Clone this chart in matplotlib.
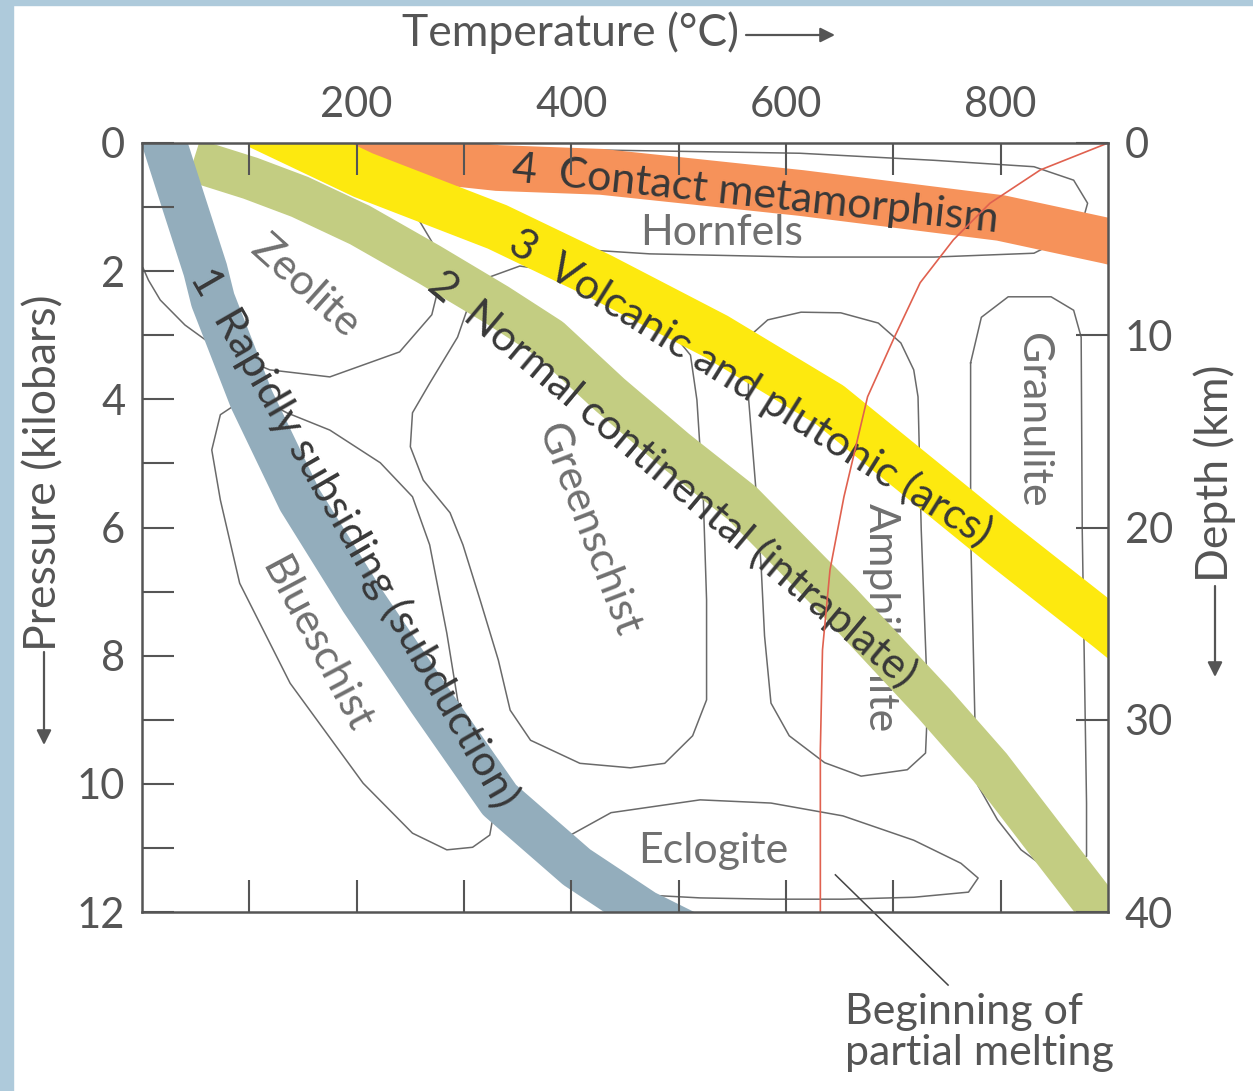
import matplotlib
matplotlib.use("Agg")
import matplotlib.pyplot as plt
from matplotlib.patches import Rectangle

plt.rcParams["font.family"] = ["Lato", "DejaVu Sans"]

# Geotherm bands: centre lines, temperature (deg C) vs pressure (kbar)
subduction_t = [17, 21, 38, 59, 66, 102, 147, 205, 268, 333, 405, 468, 510]
subduction_p = [-0.3, 0.0, 0.89, 1.98, 2.45, 4.0, 5.57, 7.13, 8.69, 10.25, 11.30,
                12.0, 12.35]

continental_t = [48, 101, 147, 203, 268, 331, 380, 436, 497, 559, 650, 738, 790,
                 840, 894, 911]
continental_p = [0.27, 0.55, 0.84, 1.28, 1.90, 2.53, 3.06, 3.93, 4.80, 5.62, 7.17,
                 8.75, 9.74, 10.83, 12.0, 12.39]

arc_t = [108, 206, 331, 428, 535, 641, 799, 900, 939]
arc_p = [-0.28, 0.50, 1.31, 2.09, 3.02, 4.09, 6.24, 7.57, 8.10]

contact_t = [175, 331, 428, 614, 800, 900, 939]
contact_p = [0.11, 0.39, 0.45, 0.78, 1.17, 1.53, 1.69]

# Beginning of partial melting (wet granite solidus)
melt_t = [900, 837, 790, 756, 725, 701, 676, 654, 641, 634, 632, 632]
melt_p = [0.0, 0.42, 0.94, 1.51, 2.18, 3.03, 3.96, 5.52, 6.66, 7.91, 9.47, 12.0]

# Facies field outlines
zeolite_t = [245, 259, 270, 278, 270, 240, 175, 119, 68, 40, 17, 6, 1]
zeolite_p = [0.97, 1.23, 1.54, 2.14, 2.68, 3.26, 3.65, 3.54, 3.18, 2.84, 2.45, 2.14, 1.95]

blueschist_t = [112, 135, 175, 222, 252, 268, 284, 296, 315, 327, 324, 308, 284,
                252, 206, 138, 91, 73, 65, 73, 91, 112]
blueschist_p = [4.01, 4.21, 4.48, 4.99, 5.52, 6.27, 7.65, 8.89, 9.94, 10.52, 10.80,
                10.99, 11.03, 10.77, 9.99, 8.43, 6.87, 5.57, 4.79, 4.24, 4.04, 4.01]

greenschist_t = [324, 306, 294, 268, 252, 250, 262, 287, 299, 315, 332, 343, 362,
                 408, 455, 487, 513, 526, 526, 523, 517, 511, 492, 445, 390, 352, 324]
greenschist_p = [2.09, 2.45, 3.03, 3.75, 4.21, 4.74, 5.26, 5.77, 6.27, 7.13, 8.07,
                 8.85, 9.32, 9.68, 9.75, 9.68, 9.25, 8.69, 7.13, 5.57, 4.01, 3.31,
                 2.92, 2.37, 2.01, 1.92, 2.09]

amphibolite_t = [565, 583, 614, 651, 686, 707, 719, 723, 726, 732, 730, 713, 670,
                 636, 603, 586, 580, 577, 573, 565, 565]
amphibolite_p = [3.03, 2.76, 2.64, 2.65, 2.81, 3.12, 3.54, 3.96, 6.04, 8.74, 9.52,
                 9.78, 9.88, 9.67, 9.25, 8.74, 7.69, 6.66, 5.62, 3.96, 3.03]

granulite_t = [772, 782, 807, 847, 868, 875, 876, 880, 880, 855, 836, 819, 797,
               779, 776, 772, 772]
granulite_p = [3.43, 2.72, 2.40, 2.40, 2.61, 3.03, 6.04, 10.30, 11.13, 11.28, 11.24,
               11.03, 10.56, 10.03, 9.00, 6.04, 3.43]

eclogite_t = [390, 397, 437, 520, 586, 653, 719, 763, 779, 770, 719, 653, 586,
              520, 464, 417, 390]
eclogite_p = [11.03, 10.82, 10.45, 10.25, 10.30, 10.50, 10.88, 11.24, 11.47, 11.69,
              11.77, 11.80, 11.80, 11.78, 11.73, 11.50, 11.03]

hornfels_t = [259, 427, 613, 738, 831, 868, 881, 874, 831, 738, 614, 473, 417,
              362, 306, 268, 259]
hornfels_p = [0.06, 0.11, 0.16, 0.27, 0.37, 0.58, 0.94, 1.36, 1.72, 1.78, 1.78,
              1.73, 1.67, 1.44, 0.97, 0.42, 0.06]

temp_ticks = [200, 400, 600, 800]
pressure_ticks = [0, 2, 4, 6, 8, 10, 12]
depth_ticks = [0, 10, 20, 30, 40]

BORDER = "#aecadb"
AXIS_GREY = "#555555"
OUTLINE = "#6a6a6a"
FACIES_TXT = "#707070"
BAND_TXT = "#383838"

fig = plt.figure(figsize=(12.53, 10.91), dpi=100)
fig.patches.append(Rectangle((0, 0), 13 / 1253, 1, transform=fig.transFigure,
                             color=BORDER, zorder=0))
fig.patches.append(Rectangle((0, 1 - 5 / 1091), 1, 5 / 1091, transform=fig.transFigure,
                             color=BORDER, zorder=0))

ax = fig.add_axes([142 / 1253, 1 - 912 / 1091, 966 / 1253, 769 / 1091])
ax.set_xlim(0, 900)
ax.set_ylim(12, 0)

# facies fields (drawn under the bands)
for t, p in [(zeolite_t, zeolite_p), (blueschist_t, blueschist_p),
             (greenschist_t, greenschist_p), (amphibolite_t, amphibolite_p),
             (granulite_t, granulite_p), (eclogite_t, eclogite_p),
             (hornfels_t, hornfels_p)]:
    ax.plot(t, p, color=OUTLINE, lw=1.1, zorder=2, solid_joinstyle="round")

facies_labels = [
    ("Zeolite", 152, 2.25, -42),
    ("Blueschist", 162, 7.83, -62),
    ("Greenschist", 416, 6.04, -69),
    ("Amphibolite", 688, 7.40, -90),
    ("Granulite", 830, 4.32, -90),
    ("Hornfels", 540, 1.40, 0),
    ("Eclogite", 532, 11.05, 0),
]
for name, t, p, rot in facies_labels:
    ax.text(t, p, name, rotation=rot, rotation_mode="anchor", ha="center",
            va="center", fontsize=31, color=FACIES_TXT, zorder=2.5)

# geotherm bands
bands = [
    (contact_t, contact_p, "#f6925a", 33),
    (continental_t, continental_p, "#c3cd82", 31),
    (arc_t, arc_p, "#fde90f", 34),
    (subduction_t, subduction_p, "#93adbc", 32),
]
for i, (t, p, col, w) in enumerate(bands):
    ax.plot(t, p, color=col, lw=w, solid_capstyle="butt", solid_joinstyle="round",
            zorder=3 + i)

band_labels = [
    ("4  Contact metamorphism", 571, 0.81, -6),
    ("3  Volcanic and plutonic (arcs)", 567, 3.82, -32),
    ("2  Normal continental (intraplate)", 494, 5.24, -40),
    ("1  Rapidly subsiding (subduction)", 198, 6.16, -60),
]
for s, t, p, rot in band_labels:
    ax.text(t, p, s, rotation=rot, rotation_mode="anchor", ha="center", va="center",
            fontsize=31, color=BAND_TXT, zorder=7)

ax.plot(melt_t, melt_p, color="#e0614f", lw=1.2, zorder=8)

# note for the melting curve
ax.plot([646, 751], [11.42, 13.14], color="#444444", lw=1.1, clip_on=False, zorder=8)
ax.text(655, 13.26, "Beginning of\npartial melting", ha="left", va="top",
        fontsize=31, color="#555555", linespacing=1.12, clip_on=False)

# axes styling
for sp in ax.spines.values():
    sp.set_color(AXIS_GREY)
    sp.set_linewidth(1.8)
    sp.set_zorder(20)
ax.xaxis.set_zorder(20)
ax.yaxis.set_zorder(20)

ax.xaxis.tick_top()
ax.set_xticks(temp_ticks)
ax.set_xticks([100, 300, 500, 700], minor=True)
ax.set_yticks(pressure_ticks)
ax.set_yticks([1, 3, 5, 7, 9, 11], minor=True)
ax.tick_params(axis="x", which="both", direction="in", length=23, width=1.5,
               color=AXIS_GREY, top=True, bottom=True, labeltop=True,
               labelbottom=False, labelsize=30, labelcolor=AXIS_GREY, pad=14)
ax.tick_params(axis="y", which="both", direction="in", length=23, width=1.5,
               color=AXIS_GREY, left=True, right=False, labelsize=30,
               labelcolor=AXIS_GREY, pad=12)

ax2 = ax.twinx()
ax2.set_ylim(40, 0)
ax2.set_yticks(depth_ticks)
ax2.tick_params(axis="y", direction="in", length=23, width=1.5, color=AXIS_GREY,
                labelsize=30, labelcolor=AXIS_GREY, pad=12)
for sp in ax2.spines.values():
    sp.set_visible(False)

# axis titles with arrows
H = 1091
arrow = dict(arrowstyle="-|>", color=AXIS_GREY, lw=1.6, mutation_scale=22,
             shrinkA=0, shrinkB=0)
fig.text(402 / 1253, 1 - 33 / H, "Temperature (\u00b0C)", ha="left", va="center",
         fontsize=32, color=AXIS_GREY)
ax.annotate("", xy=(835, H - 35), xytext=(746, H - 35), xycoords="figure pixels",
            textcoords="figure pixels", arrowprops=arrow)

fig.text(44 / 1253, 1 - 473 / H, "Pressure (kilobars)", rotation=90, ha="center",
         va="center", fontsize=32, color=AXIS_GREY)
ax.annotate("", xy=(44, H - 745), xytext=(44, H - 652), xycoords="figure pixels",
            textcoords="figure pixels", arrowprops=arrow)

fig.text(1215 / 1253, 1 - 473 / H, "Depth (km)", rotation=90, ha="center",
         va="center", fontsize=32, color=AXIS_GREY)
ax.annotate("", xy=(1215, H - 677), xytext=(1215, H - 586), xycoords="figure pixels",
            textcoords="figure pixels", arrowprops=arrow)

fig.savefig("out.png", dpi=100)
